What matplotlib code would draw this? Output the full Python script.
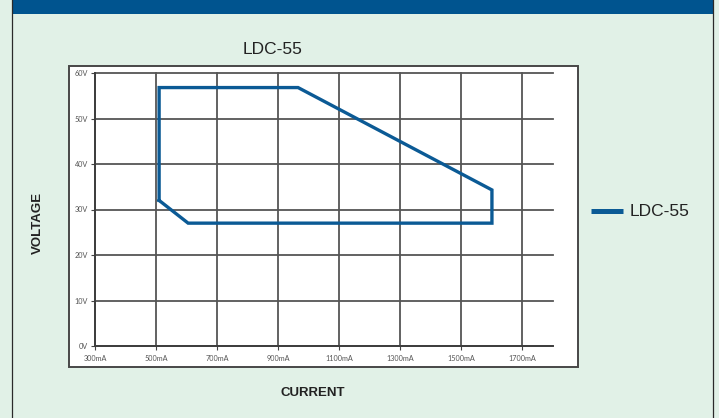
import matplotlib
matplotlib.use("Agg")
import matplotlib.pyplot as plt
from matplotlib.patches import Rectangle
from matplotlib.lines import Line2D

# Operating window of the LDC-55 driver (current in mA, voltage in V)
current_ma = [510, 510, 965, 1600, 1600, 605, 510]
voltage_v = [32.0, 56.8, 56.8, 34.3, 27.0, 27.0, 32.0]

x_ticks = [300, 500, 700, 900, 1100, 1300, 1500, 1700]
x_labels = ["300mA", "500mA", "700mA", "900mA", "1100mA", "1300mA", "1500mA", "1700mA"]
y_ticks = [0, 10, 20, 30, 40, 50, 60]
y_labels = ["0V", "10V", "20V", "30V", "40V", "50V", "60V"]

series_name = "LDC-55"
title_text = "LDC-55"
x_title = "CURRENT"
y_title = "VOLTAGE"

W, H = 719, 418
BG = "#e1f1e7"
HEADER = "#00548f"
LINE = "#0b5a95"
GRID = "#555555"

fig = plt.figure(figsize=(W / 100, H / 100), dpi=100)
fig.patch.set_facecolor(BG)


def px_rect(x0, y0, x1, y1, **kw):
    """Rectangle given in pixel coordinates measured from the top-left."""
    return Rectangle((x0 / W, 1 - y1 / H), (x1 - x0) / W, (y1 - y0) / H,
                     transform=fig.transFigure, **kw)


# page frame: header band and side rules
fig.patches.append(px_rect(11.5, 0, 713, 13.5, facecolor=HEADER, edgecolor="none", zorder=0))
for xp in (11.5, 713):
    fig.lines.append(Line2D([xp / W, xp / W], [0, 1], transform=fig.transFigure,
                            color="#2a2a2a", lw=0.9, zorder=1))

# white chart panel
fig.patches.append(px_rect(69, 65.5, 577.5, 367, facecolor="white",
                           edgecolor="#474747", lw=1.4, zorder=1))

narrow_bold = dict(family=["Liberation Sans Narrow", "Liberation Sans"], weight="bold")

fig.text(273 / W, 1 - 50 / H, title_text, ha="center", va="center",
         fontsize=12.5, family="Liberation Sans", color="#222222")
fig.text(38 / W, 1 - 223 / H, y_title, ha="center", va="center", rotation=90,
         fontsize=9.5, color="#222222", **narrow_bold)
fig.text(313 / W, 1 - 393 / H, x_title, ha="center", va="center",
         fontsize=9.5, color="#222222", **narrow_bold)

ax = fig.add_axes([95 / W, 1 - 346 / H, (553 - 95) / W, (346 - 73) / H])
ax.set_zorder(2)
ax.patch.set_visible(False)
ax.set_xlim(300, 1800)
ax.set_ylim(0, 60)

ax.set_xticks(x_ticks)
ax.set_xticklabels(x_labels)
ax.set_yticks(y_ticks)
ax.set_yticklabels(y_labels)
ax.tick_params(axis="both", direction="out", length=3, width=0.8, color="#444444",
               labelsize=5.2, labelcolor="#555555")
ax.tick_params(axis="x", pad=3.5)
ax.tick_params(axis="y", pad=2)
for lbl in ax.get_xticklabels() + ax.get_yticklabels():
    lbl.set_family("Lato")

ax.grid(True, color=GRID, lw=1.3)
ax.set_axisbelow(True)
for gl in ax.get_xgridlines() + ax.get_ygridlines():
    gl.set_clip_on(False)

for side in ("top", "right"):
    ax.spines[side].set_visible(False)
for side in ("left", "bottom"):
    ax.spines[side].set_color("#3c3c3c")
    ax.spines[side].set_linewidth(1.3)

ax.plot(current_ma, voltage_v, color=LINE, lw=2.4, solid_joinstyle="miter",
        zorder=3, label=series_name)

# legend entry to the right of the panel
fig.lines.append(Line2D([591 / W, 623 / W], [1 - 211 / H] * 2, transform=fig.transFigure,
                        color=LINE, lw=3.6, solid_capstyle="butt"))
fig.text(630 / W, 1 - 211 / H, series_name, ha="left", va="center",
         fontsize=12.5, family="Liberation Sans", color="#222222")

fig.savefig("out.png", dpi=100, facecolor=BG)
